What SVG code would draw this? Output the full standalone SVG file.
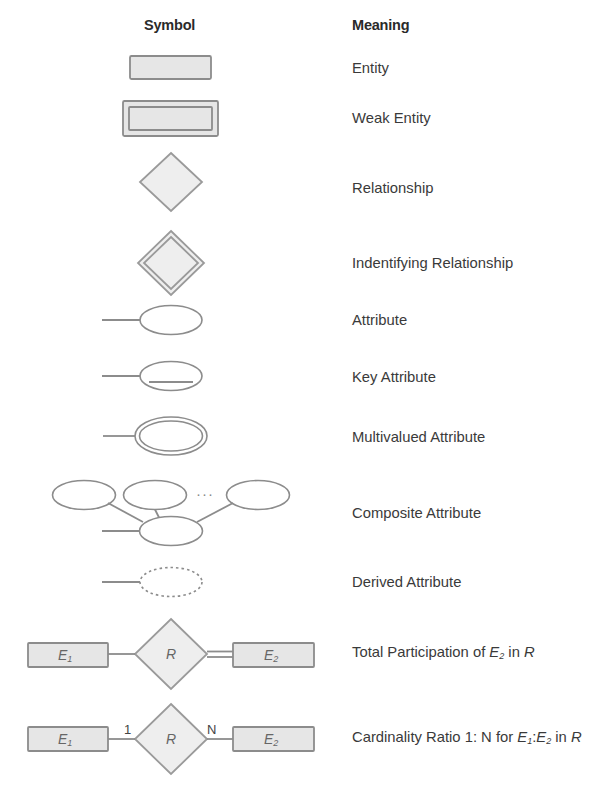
<svg xmlns="http://www.w3.org/2000/svg" width="615" height="798" viewBox="0 0 615 798">
<style>
.s{fill:#e6e6e6;stroke:#8c8c8c;stroke-width:1.8}
.d{fill:#eeeeee;stroke:#9a9a9a;stroke-width:1.8}
.e{fill:#fff;stroke:#8c8c8c;stroke-width:1.6}
.ln{stroke:#8c8c8c;stroke-width:1.8;fill:none}
.t{font-family:"Liberation Sans",Arial,sans-serif;font-size:14.8px;fill:#3a3a3a}
.h{font-family:"Liberation Sans",Arial,sans-serif;font-size:14.5px;font-weight:bold;fill:#2a2a2a;letter-spacing:-0.2px}
.l{font-family:"Liberation Sans",Arial,sans-serif;font-size:14px;font-style:italic;fill:#666}
.sub{font-size:9px}
.n{font-family:"Liberation Sans",Arial,sans-serif;font-size:13px;fill:#444}
</style>
<rect width="615" height="798" fill="#fff"/>
<g id="headers">
<text class="h" x="144" y="30">Symbol</text>
<text class="h" x="352" y="30">Meaning</text>
</g>
<g id="entity">
<rect class="s" x="130" y="56" width="81" height="23" rx="1.5"/>
<text class="t" x="352" y="73">Entity</text>
</g>
<g id="weak-entity">
<rect class="s" x="123" y="101" width="95" height="35" rx="1.5"/>
<rect class="s" x="129" y="107" width="83" height="23" rx="1"/>
<text class="t" x="352" y="123">Weak Entity</text>
</g>
<g id="relationship">
<polygon class="d" points="171,153 202,182 171,211 140,182"/>
<text class="t" x="352" y="193">Relationship</text>
</g>
<g id="identifying-relationship">
<polygon class="d" points="171,231 204,263 171,295 138,263"/>
<polygon class="d" points="171,237 198,263 171,289 144,263"/>
<text class="t" x="352" y="268">Indentifying Relationship</text>
</g>
<g id="attribute">
<line class="ln" x1="102" y1="320" x2="140" y2="320"/>
<ellipse class="e" cx="171" cy="320" rx="31" ry="14.5"/>
<text class="t" x="352" y="325">Attribute</text>
</g>
<g id="key-attribute">
<line class="ln" x1="102" y1="376" x2="140" y2="376"/>
<ellipse class="e" cx="171" cy="376" rx="31" ry="14.5"/>
<line class="ln" x1="149" y1="382" x2="193" y2="382"/>
<text class="t" x="352" y="382">Key Attribute</text>
</g>
<g id="multivalued-attribute">
<line class="ln" x1="103" y1="436" x2="135" y2="436"/>
<ellipse class="e" cx="171" cy="436" rx="36" ry="19"/>
<ellipse class="e" cx="171" cy="436" rx="31.5" ry="15"/>
<text class="t" x="352" y="442">Multivalued Attribute</text>
</g>
<g id="composite-attribute">
<ellipse class="e" cx="84" cy="495" rx="31.5" ry="14.5"/>
<ellipse class="e" cx="155" cy="495" rx="31.5" ry="14.5"/>
<ellipse class="e" cx="258" cy="495" rx="31.5" ry="14.5"/>
<text class="n" x="196" y="499" style="font-size:15px;fill:#888;letter-spacing:1px">···</text>
<ellipse class="e" cx="171" cy="531" rx="31.5" ry="14.5"/>
<text class="t" x="352" y="518">Composite Attribute</text>
</g>
<g id="derived-attribute">
<line class="ln" x1="102" y1="582" x2="140" y2="582"/>
<ellipse class="e" cx="171" cy="582" rx="31" ry="14.5" stroke-dasharray="2.5,3"/>
<text class="t" x="352" y="587">Derived Attribute</text>
</g>
<g id="total-participation">
<rect class="s" x="28" y="643" width="80" height="24" rx="1"/>
<text class="l" x="58" y="660">E<tspan class="sub" dy="2">1</tspan></text>
<polygon class="d" points="171,619 207,654 171,689 135,654"/>
<text class="l" x="166" y="659">R</text>
<rect class="s" x="233" y="643" width="81" height="24" rx="1"/>
<text class="l" x="264" y="660">E<tspan class="sub" dy="2">2</tspan></text>
<text class="t" x="352" y="657">Total Participation of <tspan font-style="italic">E</tspan><tspan font-style="italic" font-size="9" dy="2">2</tspan><tspan dy="-2"> in </tspan><tspan font-style="italic">R</tspan></text>
</g>
<g id="cardinality-ratio">
<rect class="s" x="28" y="727" width="80" height="24" rx="1"/>
<text class="l" x="58" y="744">E<tspan class="sub" dy="2">1</tspan></text>
<polygon class="d" points="171,704 207,739 171,774 135,739"/>
<text class="l" x="166" y="744">R</text>
<rect class="s" x="233" y="727" width="81" height="24" rx="1"/>
<text class="l" x="264" y="744">E<tspan class="sub" dy="2">2</tspan></text>
<text class="n" x="124" y="734">1</text>
<text class="n" x="207" y="734">N</text>
<text class="t" x="352" y="742">Cardinality Ratio 1: N for <tspan font-style="italic">E</tspan><tspan font-style="italic" font-size="9" dy="2">1</tspan><tspan dy="-2">:</tspan><tspan font-style="italic">E</tspan><tspan font-style="italic" font-size="9" dy="2">2</tspan><tspan dy="-2"> in </tspan><tspan font-style="italic">R</tspan></text>
</g>
<g id="connectors">
<line class="ln" x1="108" y1="503" x2="143" y2="522"/>
<line class="ln" x1="155" y1="509.5" x2="159" y2="517.5"/>
<line class="ln" x1="233" y1="503" x2="197" y2="522"/>
<line class="ln" x1="102" y1="531" x2="140" y2="531"/>
<line class="ln" x1="108" y1="654" x2="135" y2="654"/>
<line class="ln" x1="207" y1="651.5" x2="233" y2="651.5" stroke-width="1.4"/>
<line class="ln" x1="207" y1="657" x2="233" y2="657" stroke-width="1.4"/>
<line class="ln" x1="108" y1="739" x2="135" y2="739"/>
<line class="ln" x1="207" y1="739" x2="233" y2="739"/>
</g>
</svg>
